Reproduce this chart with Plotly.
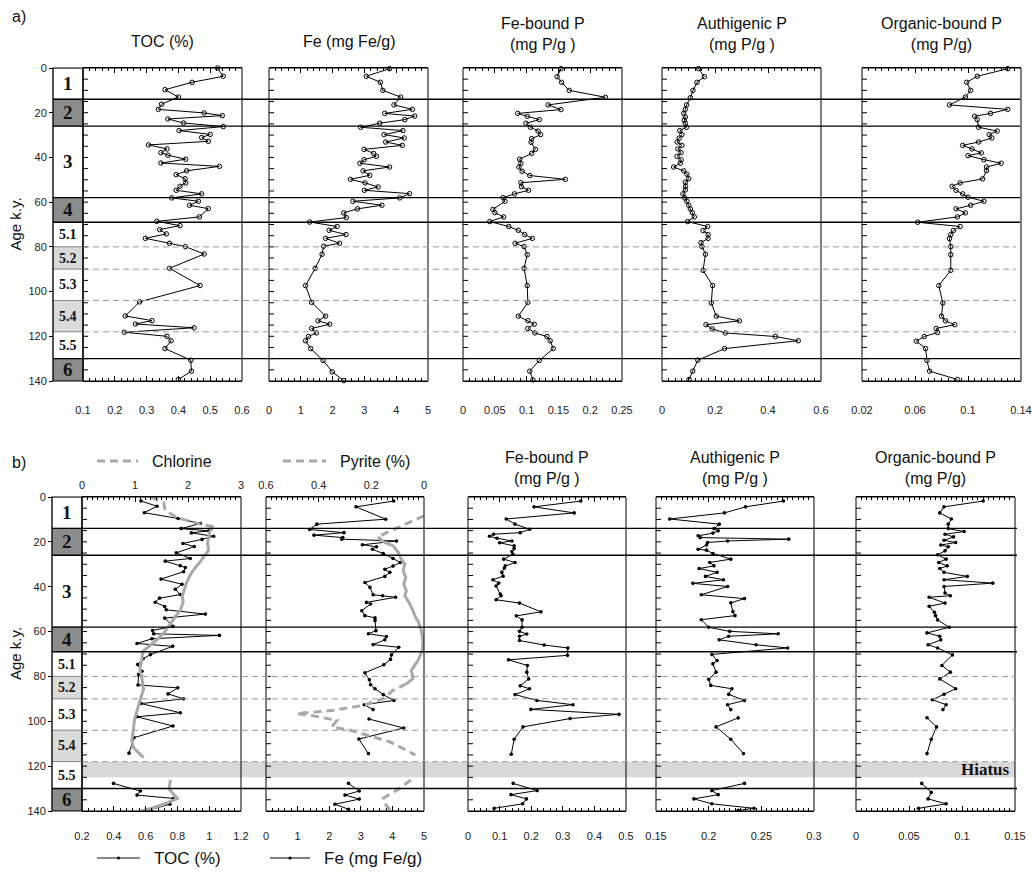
import plotly.graph_objects as go

# ---------------------------------------------------------------------------
# Down-core records, (age in k.y., value)
# ---------------------------------------------------------------------------
# a) core record
TOC_A = [(0.0, 0.523), (3.7, 0.541), (6.4, 0.443), (9.7, 0.358), (13.0, 0.400), (16.2, 0.347),
         (18.5, 0.337), (20.1, 0.481), (21.3, 0.538), (22.8, 0.367), (24.6, 0.416), (26.2, 0.541),
         (28.0, 0.402), (29.7, 0.500), (31.1, 0.473), (32.8, 0.494), (34.4, 0.306), (36.2, 0.364),
         (37.9, 0.345), (39.0, 0.367), (40.8, 0.423), (42.5, 0.345), (44.0, 0.529), (46.0, 0.426),
         (47.7, 0.393), (49.5, 0.421), (51.4, 0.423), (52.9, 0.405), (54.7, 0.393), (56.3, 0.473),
         (58.1, 0.379), (59.6, 0.463), (61.4, 0.435), (62.9, 0.494), (66.6, 0.466), (68.6, 0.332),
         (70.5, 0.405), (72.3, 0.341), (74.2, 0.362), (76.2, 0.296), (78.4, 0.372), (79.9, 0.422),
         (83.2, 0.481), (89.6, 0.372), (97.3, 0.468), (104.6, 0.278), (110.9, 0.233), (113.0, 0.317),
         (114.5, 0.265), (116.2, 0.449), (118.2, 0.230), (120.0, 0.364), (122.0, 0.377), (125.5, 0.358),
         (130.7, 0.439), (135.6, 0.441), (139.3, 0.400)]

FE_A = [(0.3, 3.79), (3.7, 3.06), (6.4, 3.50), (10.0, 3.58), (13.0, 4.14), (16.5, 3.93), (18.5, 4.51),
        (20.3, 3.64), (21.5, 4.58), (23.1, 4.27), (24.7, 3.48), (26.5, 2.88), (28.0, 4.21), (29.8, 3.62),
        (31.3, 4.25), (33.1, 3.67), (34.6, 4.19), (36.4, 2.99), (38.2, 3.29), (39.5, 3.38), (41.0, 2.99),
        (42.6, 2.86), (44.3, 3.79), (46.0, 2.96), (48.0, 3.17), (49.8, 2.56), (51.4, 3.02), (53.2, 3.43),
        (54.7, 3.00), (56.2, 4.42), (58.1, 4.11), (59.6, 2.64), (61.4, 3.55), (63.0, 2.78), (64.8, 2.35),
        (66.9, 2.43), (68.9, 1.28), (70.9, 2.14), (72.6, 1.89), (74.5, 2.42), (76.2, 1.78), (78.4, 2.22),
        (79.7, 1.72), (83.3, 1.67), (89.6, 1.45), (97.3, 1.15), (104.8, 1.34), (111.0, 1.78), (113.1, 1.54),
        (114.6, 1.91), (116.5, 1.34), (118.5, 1.49), (120.1, 1.24), (122.0, 1.15), (125.5, 1.31),
        (130.8, 1.70), (135.9, 1.99), (139.8, 2.35)]

FEP_A = [(0.3, 0.154), (3.9, 0.148), (6.4, 0.155), (10.0, 0.167), (13.1, 0.224), (16.5, 0.134),
         (18.6, 0.154), (20.3, 0.086), (21.6, 0.101), (23.1, 0.120), (24.7, 0.099), (26.5, 0.106),
         (28.2, 0.118), (29.8, 0.122), (31.6, 0.108), (33.2, 0.107), (36.4, 0.114), (38.2, 0.108),
         (40.8, 0.089), (42.6, 0.091), (44.3, 0.088), (46.2, 0.093), (48.1, 0.105), (49.8, 0.161),
         (51.3, 0.091), (53.1, 0.092), (54.7, 0.103), (56.3, 0.081), (58.0, 0.063), (59.6, 0.066),
         (63.2, 0.047), (64.7, 0.050), (66.6, 0.064), (68.7, 0.042), (70.9, 0.072), (72.6, 0.087),
         (74.5, 0.097), (76.2, 0.109), (78.4, 0.082), (79.9, 0.096), (83.5, 0.101), (89.6, 0.096),
         (97.3, 0.101), (104.8, 0.102), (111.0, 0.087), (113.0, 0.102), (114.6, 0.112), (116.5, 0.102),
         (118.5, 0.113), (120.1, 0.132), (122.0, 0.137), (125.5, 0.142), (130.8, 0.120), (135.6, 0.105),
         (139.5, 0.110)]

AUTHP_A = [(0.3, 0.138), (3.9, 0.160), (6.4, 0.132), (10.0, 0.117), (13.3, 0.107), (16.5, 0.093),
           (18.5, 0.088), (20.3, 0.082), (21.9, 0.088), (23.4, 0.084), (24.7, 0.088), (26.5, 0.092),
           (28.0, 0.067), (29.8, 0.075), (31.4, 0.065), (33.1, 0.057), (34.6, 0.075), (36.2, 0.060),
           (37.9, 0.072), (39.5, 0.057), (41.1, 0.072), (42.6, 0.069), (44.3, 0.044), (46.0, 0.082),
           (47.5, 0.094), (49.5, 0.101), (51.1, 0.088), (52.9, 0.089), (54.5, 0.088), (56.3, 0.079),
           (58.1, 0.086), (59.6, 0.094), (61.4, 0.101), (63.0, 0.107), (64.7, 0.114), (66.6, 0.122),
           (68.7, 0.097), (70.9, 0.172), (72.7, 0.155), (74.5, 0.174), (76.2, 0.174), (78.1, 0.147),
           (79.9, 0.151), (83.3, 0.164), (90.5, 0.155), (97.3, 0.191), (105.1, 0.186), (111.0, 0.205),
           (113.1, 0.292), (114.8, 0.166), (116.7, 0.189), (118.5, 0.239), (120.1, 0.428), (122.0, 0.514),
           (125.5, 0.236), (130.7, 0.135), (135.6, 0.116), (139.3, 0.102)]

ORGP_A = [(0.3, 0.130), (3.7, 0.107), (6.4, 0.099), (10.0, 0.102), (13.0, 0.098), (16.5, 0.086),
          (18.5, 0.130), (20.3, 0.117), (21.6, 0.105), (23.1, 0.107), (26.5, 0.108), (28.2, 0.122),
          (29.8, 0.116), (31.3, 0.118), (33.1, 0.108), (34.6, 0.096), (36.2, 0.103), (38.0, 0.110),
          (39.2, 0.100), (41.0, 0.112), (42.6, 0.125), (44.3, 0.114), (45.9, 0.114), (49.6, 0.111),
          (51.4, 0.094), (52.9, 0.088), (54.7, 0.091), (56.3, 0.096), (57.8, 0.100), (59.6, 0.112),
          (61.4, 0.102), (63.0, 0.091), (64.8, 0.098), (66.6, 0.092), (69.0, 0.062), (70.9, 0.094),
          (72.7, 0.089), (74.5, 0.087), (76.3, 0.086), (79.9, 0.087), (83.5, 0.087), (90.5, 0.087),
          (97.3, 0.078), (105.1, 0.081), (111.0, 0.080), (113.1, 0.083), (114.8, 0.090), (116.5, 0.076),
          (118.3, 0.077), (120.1, 0.067), (122.2, 0.061), (125.5, 0.068), (130.8, 0.069), (135.6, 0.071),
          (139.3, 0.092)]

# b) core record
TOC_B = [(1.8, 0.571), (4.1, 0.672), (7.0, 0.592), (9.6, 0.804), (11.8, 0.944), (14.1, 0.823),
         (15.1, 0.997), (16.0, 0.888), (17.5, 1.028), (18.9, 0.955), (20.7, 0.835), (22.1, 0.906),
         (24.9, 0.793), (27.4, 0.881), (28.6, 0.724), (30.6, 0.818), (31.4, 0.850), (33.3, 0.839),
         (36.6, 0.697), (38.9, 0.829), (41.1, 0.787), (43.5, 0.818), (45.1, 0.688), (46.9, 0.661),
         (48.8, 0.720), (50.3, 0.730), (52.2, 0.976), (54.0, 0.720), (57.7, 0.772), (59.5, 0.644),
         (61.0, 0.651), (61.7, 1.064), (63.2, 0.640), (65.3, 0.546), (66.6, 0.770), (70.3, 0.630),
         (72.1, 0.584), (74.7, 0.550), (77.7, 0.577), (79.2, 0.556), (83.8, 0.552), (85.1, 0.802),
         (87.8, 0.741), (90.0, 0.839), (92.1, 0.571), (96.2, 0.818), (98.0, 0.546), (102.1, 0.772),
         (107.3, 0.527), (114.2, 0.496), (127.7, 0.398), (131.1, 0.567), (132.9, 0.546), (134.4, 0.774),
         (137.0, 0.753), (139.3, 0.635)]

CHLORINE = [(0.0, 1.30), (1.5, 1.42), (2.7, 1.54), (5.9, 1.57), (9.2, 1.79), (10.4, 1.98), (12.1, 2.23),
            (13.3, 2.48), (15.5, 2.41), (17.8, 2.39), (20.7, 2.37), (23.7, 2.39), (26.6, 2.31),
            (28.9, 2.23), (31.4, 2.14), (34.0, 2.06), (37.7, 1.98), (40.7, 1.94), (44.4, 1.89),
            (46.6, 1.91), (50.3, 1.86), (53.3, 1.76), (56.2, 1.67), (59.9, 1.57), (62.9, 1.45),
            (65.6, 1.32), (67.3, 1.23), (68.8, 1.15), (72.5, 1.13), (77.0, 1.09), (80.7, 1.13),
            (85.8, 1.16), (90.3, 1.10), (94.7, 1.04), (99.2, 0.99), (103.6, 0.97), (108.8, 0.94),
            (111.7, 0.97), (114.0, 1.07), (116.2, 1.16), (126.2, 1.67), (130.2, 1.64), (134.4, 1.80),
            (137.0, 1.54), (139.0, 1.29), (140.0, 1.12)]

FE_B = [(1.8, 4.04), (4.4, 2.85), (9.9, 3.79), (12.1, 1.61), (14.5, 1.38), (15.9, 2.47), (17.0, 1.52),
        (18.1, 2.43), (18.8, 2.40), (19.6, 4.13), (21.3, 3.05), (22.2, 3.50), (23.3, 3.37), (25.2, 3.71),
        (27.4, 4.02), (29.2, 4.25), (30.8, 4.02), (32.2, 3.76), (33.6, 3.92), (35.4, 3.76), (38.1, 3.13),
        (40.3, 3.29), (43.6, 3.39), (44.0, 3.69), (44.7, 4.10), (47.0, 3.18), (47.7, 3.31), (50.7, 3.03),
        (52.9, 3.13), (53.9, 3.45), (55.1, 3.45), (59.6, 3.48), (61.0, 3.24), (62.2, 3.81), (63.7, 3.76),
        (65.8, 3.39), (67.0, 4.20), (70.4, 3.97), (72.4, 3.94), (74.8, 3.73), (78.4, 3.13), (81.5, 3.27),
        (83.7, 3.31), (85.5, 3.45), (88.1, 3.71), (90.7, 4.05), (92.6, 3.11), (94.8, 3.39), (99.0, 3.26),
        (103.0, 4.36), (107.9, 2.94), (114.4, 3.24), (127.7, 2.61), (131.1, 2.95), (132.9, 2.50),
        (134.7, 2.95), (137.0, 2.18), (139.2, 2.61)]

PYRITE = [(8.4, 0.000), (9.9, 0.029), (12.1, 0.067), (14.1, 0.105), (15.9, 0.142), (17.8, 0.174),
          (19.9, 0.155), (21.8, 0.117), (24.7, 0.098), (27.7, 0.086), (29.9, 0.073), (32.9, 0.079),
          (35.9, 0.069), (38.8, 0.077), (41.8, 0.067), (44.0, 0.073), (47.0, 0.057), (50.7, 0.042),
          (53.6, 0.032), (55.5, 0.022), (58.1, 0.016), (59.6, 0.010), (64.0, 0.004), (68.4, 0.006),
          (72.9, 0.023), (77.3, 0.048), (81.0, 0.042), (83.3, 0.067), (86.2, 0.117), (89.9, 0.155),
          (92.9, 0.231), (95.1, 0.344), (96.6, 0.483), (97.3, 0.432), (99.6, 0.331), (102.5, 0.350),
          (104.0, 0.281), (106.0, 0.220), (109.2, 0.130), (112.9, 0.067), (115.1, 0.033),
          (126.2, 0.050), (128.5, 0.075), (130.5, 0.100), (132.5, 0.130), (134.4, 0.155),
          (136.5, 0.150), (138.5, 0.135), (140.0, 0.125)]

FEP_B = [(1.8, 0.357), (4.4, 0.209), (7.1, 0.336), (9.8, 0.121), (12.1, 0.149), (14.4, 0.195),
         (15.9, 0.165), (16.6, 0.081), (17.5, 0.068), (18.4, 0.092), (19.6, 0.139), (20.4, 0.100),
         (21.8, 0.146), (23.0, 0.146), (24.3, 0.139), (25.5, 0.142), (27.7, 0.113), (29.2, 0.149),
         (30.7, 0.118), (31.7, 0.115), (33.6, 0.107), (35.3, 0.111), (36.9, 0.079), (38.4, 0.097),
         (39.7, 0.089), (43.3, 0.102), (44.0, 0.105), (45.8, 0.089), (47.3, 0.163), (51.2, 0.231),
         (53.0, 0.153), (54.8, 0.171), (58.1, 0.171), (59.9, 0.163), (61.1, 0.186), (62.1, 0.163),
         (64.0, 0.163), (66.0, 0.241), (67.3, 0.316), (70.6, 0.315), (72.6, 0.128), (75.1, 0.188),
         (78.1, 0.186), (81.1, 0.192), (84.2, 0.165), (85.5, 0.195), (88.1, 0.149), (90.7, 0.218),
         (92.6, 0.332), (94.7, 0.199), (96.9, 0.478), (98.8, 0.323), (102.5, 0.174), (108.0, 0.146),
         (114.7, 0.137), (127.7, 0.143), (130.9, 0.219), (132.7, 0.136), (134.6, 0.185), (136.8, 0.173),
         (138.8, 0.083)]

AUTHP_B = [(1.8, 0.271), (4.4, 0.235), (7.1, 0.215), (9.8, 0.163), (12.1, 0.210), (14.1, 0.205),
           (15.1, 0.209), (16.1, 0.204), (17.3, 0.190), (18.1, 0.192), (18.8, 0.276), (19.6, 0.218),
           (20.3, 0.199), (21.4, 0.198), (23.3, 0.190), (23.7, 0.198), (25.2, 0.204), (27.7, 0.221),
           (29.2, 0.201), (30.7, 0.205), (31.9, 0.191), (33.6, 0.208), (35.4, 0.197), (36.9, 0.214),
           (38.5, 0.185), (39.9, 0.218), (43.6, 0.193), (45.3, 0.234), (47.2, 0.221), (51.1, 0.223),
           (52.9, 0.225), (54.7, 0.193), (58.1, 0.200), (59.9, 0.220), (61.0, 0.266), (62.1, 0.219),
           (63.7, 0.210), (65.9, 0.245), (67.3, 0.275), (70.2, 0.203), (72.9, 0.208), (74.4, 0.204),
           (78.1, 0.207), (81.3, 0.200), (84.0, 0.202), (85.5, 0.222), (88.0, 0.219), (90.7, 0.234),
           (92.6, 0.218), (94.8, 0.221), (98.5, 0.228), (102.5, 0.207), (108.0, 0.221), (114.4, 0.233),
           (127.7, 0.234), (130.9, 0.203), (132.7, 0.209), (134.6, 0.186), (136.8, 0.203), (138.8, 0.243),
           (139.7, 0.228)]

ORGP_B = [(1.8, 0.120), (4.4, 0.083), (7.1, 0.079), (9.8, 0.090), (12.1, 0.087), (14.1, 0.087),
          (15.4, 0.102), (16.6, 0.084), (17.8, 0.092), (19.3, 0.083), (20.3, 0.094), (21.4, 0.080),
          (22.2, 0.087), (24.0, 0.084), (25.8, 0.077), (27.7, 0.085), (29.2, 0.078), (30.7, 0.086),
          (31.9, 0.079), (33.6, 0.083), (35.4, 0.105), (36.9, 0.083), (38.4, 0.129), (39.9, 0.083),
          (42.8, 0.084), (44.0, 0.089), (44.7, 0.069), (47.3, 0.084), (48.7, 0.069), (51.4, 0.074),
          (52.9, 0.075), (54.8, 0.077), (58.1, 0.088), (60.6, 0.067), (62.1, 0.079), (63.7, 0.080),
          (65.9, 0.068), (67.3, 0.077), (70.4, 0.091), (75.1, 0.081), (78.1, 0.089), (81.1, 0.079),
          (85.5, 0.094), (88.0, 0.083), (90.4, 0.072), (92.6, 0.085), (94.8, 0.082), (98.4, 0.067),
          (102.5, 0.076), (108.0, 0.071), (114.4, 0.067), (127.7, 0.062), (131.7, 0.071), (134.6, 0.068),
          (136.8, 0.085), (138.8, 0.059)]

# Marine isotope stages
STAGE_BOUNDS = [0, 14, 26, 58, 69, 80, 90, 104, 118, 130, 140]
STAGE_LABELS = ["1", "2", "3", "4", "5.1", "5.2", "5.3", "5.4", "5.5", "6"]
STAGE_MAJOR = [14, 26, 58, 69, 130]
STAGE_SUB = [80, 90, 104, 118]
HIATUS = (118, 125)
SAMPLE_GAP = (95.5, 98.0)
AGE_TICKS = [0, 20, 40, 60, 80, 100, 120, 140]

# ---------------------------------------------------------------------------
W, H = 1032, 872


def px(x):
    return x / W


def py(y):
    return 1 - y / H


FONT = "Liberation Sans, Arial, Helvetica, sans-serif"
SERIF = "Liberation Serif, Times New Roman, serif"
GREY_CURVE = "#a9a9a9"
TONES = {"1": "white", "2": "#8c8c8c", "3": "white", "4": "#8c8c8c", "5.1": "white",
         "5.2": "#dadada", "5.3": "white", "5.4": "#dadada", "5.5": "white", "6": "#8c8c8c"}

# row geometry (pixel rows of age 0 and age 140) and stage column
ROWS = {"a": dict(top=68, bot=381, col=(53, 83), yref="y", right=1020, dash_right=1016),
        "b": dict(top=497, bot=811, col=(52, 82), yref="y2", right=1017, dash_right=1015)}


def with_gaps(points, gaps):
    ages, vals = [], []
    prev = None
    for age, v in points:
        if prev is not None and any(prev <= g0 and age >= g1 for g0, g1 in gaps):
            ages.append(None)
            vals.append(None)
        ages.append(age)
        vals.append(v)
        prev = age
    return ages, vals


fig = go.Figure()
layout = dict(width=W, height=H, margin=dict(l=0, r=0, t=0, b=0, pad=0, autoexpand=False),
              paper_bgcolor="white", plot_bgcolor="rgba(0,0,0,0)",
              showlegend=False, hovermode=False,
              font=dict(family=FONT, color="#1a1a1a", size=11))
shapes, annots = [], []

AX_BASE = dict(showgrid=False, zeroline=False, showline=True, linecolor="black", linewidth=1,
               ticks="inside", ticklen=5, tickwidth=1, tickcolor="black", automargin=False,
               tickfont=dict(size=11, family=FONT, color="#222"))


def x_axis(idx, left, right, rng, dtick, minor, anchor, standoff=18, mirror="ticks",
           side="bottom", overlay=None, tick0=None):
    ax = dict(AX_BASE)
    ax.update(range=rng, dtick=dtick, tick0=rng[0] if tick0 is None else tick0,
              minor=dict(dtick=minor, ticks="inside", ticklen=3, tickcolor="black",
                         tick0=rng[0] if tick0 is None else tick0),
              anchor=anchor, side=side, mirror=mirror, ticklabelstandoff=standoff)
    if overlay:
        ax["overlaying"] = overlay
    else:
        ax["domain"] = [px(left), px(right)]
    layout["xaxis" if idx == 1 else f"xaxis{idx}"] = ax
    return "x" if idx == 1 else f"x{idx}"


def frame(xref, yref, left_w):
    # plot box plus small inward age ticks on the left edge every 5 k.y.
    xd = f"{xref} domain"
    shapes.append(dict(type="rect", xref=xd, yref=f"{yref} domain", x0=0, x1=1, y0=0, y1=1,
                       line=dict(color="black", width=1), layer="above"))
    for age in range(5, 140, 5):
        shapes.append(dict(type="line", xref=xd, yref=yref, x0=0, x1=5 / left_w, y0=age, y1=age,
                           line=dict(color="black", width=1), layer="above"))


def series(points, xref, yref, mark, gaps=()):
    ages, vals = with_gaps(points, gaps)
    if mark == "open":
        marker = dict(symbol="circle-open", size=4.5, color="black", line=dict(width=1, color="black"))
    else:
        marker = dict(symbol="circle", size=3.6, color="black")
    fig.add_trace(go.Scatter(x=vals, y=ages, xaxis=xref, yaxis=yref, mode="lines+markers",
                             line=dict(color="black", width=1), marker=marker, cliponaxis=False))


def grey_curve(points, xref, yref, pieces):
    for a0, a1, dash in pieces:
        seg = [(a, v) for a, v in points if a0 <= a <= a1]
        fig.add_trace(go.Scatter(x=[v for _, v in seg], y=[a for a, _ in seg], xaxis=xref, yaxis=yref,
                                 mode="lines", line=dict(color=GREY_CURVE, width=3, dash=dash)))


def label(text, x, y, size=16, family=FONT, xref="paper", yref="paper", **kw):
    a = dict(text=text, xref=xref, yref=yref, x=x, y=y, showarrow=False,
             xanchor="center", yanchor="middle", font=dict(size=size, family=family, color="#111"))
    a.update(kw)
    annots.append(a)


# ---- y (age) axes -----------------------------------------------------------
for key_, name in (("a", "yaxis"), ("b", "yaxis2")):
    r = ROWS[key_]
    layout[name] = dict(domain=[py(r["bot"]), py(r["top"])], range=[140, 0], anchor="free",
                        position=px(r["col"][0]), side="left", showgrid=False, zeroline=False,
                        showline=False, ticks="outside", ticklen=4, tickcolor="black", automargin=False,
                        tickvals=AGE_TICKS, tickfont=dict(size=11, family=FONT, color="#222"))
    label("Age k.y.", px(15), py((r["top"] + r["bot"]) / 2), size=15, textangle=-90)

# ---- panel a ----------------------------------------------------------------
PANEL_A = [
    (1, 83, 242, [0.1, 0.6], 0.1, 0.02, TOC_A, "TOC (%)"),
    (2, 269, 428, [0, 5], 1, 0.2, FE_A, "Fe (mg Fe/g)"),
    (3, 463, 622, [0, 0.25], 0.05, 0.01, FEP_A, "Fe-bound P<br>(mg P/g )"),
    (4, 662, 821, [0, 0.6], 0.2, 0.025, AUTHP_A, "Authigenic P<br>(mg P/g )"),
    (5, 862, 1021, [0.02, 0.14], 0.04, 0.005, ORGP_A, "Organic-bound P<br>(mg P/g)"),
]
for idx, left, right, rng, dt, mn, pts, title in PANEL_A:
    xr = x_axis(idx, left, right, rng, dt, mn, "y", standoff=19)
    series(pts, xr, "y", "open")
    frame(xr, "y", right - left)
    two = "<br>" in title
    label(title, px((left + right) / 2), py(34 if two else 41))

# ---- panel b ----------------------------------------------------------------
xr6 = x_axis(6, 82, 241, [0.2, 1.2], 0.2, 0.04, "y2", standoff=15, mirror=False)
xr7 = x_axis(7, 82, 241, [0, 3], 1, 0.1, "y2", standoff=3, mirror=False, side="top", overlay="x6")
xr8 = x_axis(8, 266, 424, [0, 5], 1, 0.2, "y2", standoff=15, mirror=False)
xr9 = x_axis(9, 266, 424, [0.6, 0], 0.2, 0.02, "y2", standoff=3, mirror=False, side="top",
             overlay="x8", tick0=0)
grey_curve(CHLORINE, xr7, "y2", [(0, 13.3, "8px,5px"), (13.3, 117, "solid"),
                                 (126, 130.2, "8px,5px"), (130.2, 141, "solid")])
grey_curve(PYRITE, xr9, "y2", [(8, 17.8, "8px,5px"), (17.8, 83.3, "solid"),
                               (83.3, 116, "8px,5px"), (126, 141, "8px,5px")])
series(TOC_B, xr6, "y2", "dot", gaps=[HIATUS])
series(FE_B, xr8, "y2", "dot", gaps=[HIATUS, SAMPLE_GAP])
frame(xr6, "y2", 241 - 82)
frame(xr8, "y2", 424 - 266)

PANEL_B = [
    (10, 468, 626, [0, 0.5], 0.1, 0.02, FEP_B, "Fe-bound P<br>(mg P/g )", [HIATUS]),
    (11, 656, 814, [0.15, 0.3], 0.05, 0.005, AUTHP_B, "Authigenic P<br>(mg P/g )", [HIATUS, SAMPLE_GAP]),
    (12, 856, 1015, [0, 0.15], 0.05, 0.005, ORGP_B, "Organic-bound P<br>(mg P/g)", [HIATUS, SAMPLE_GAP]),
]
for idx, left, right, rng, dt, mn, pts, title, gaps in PANEL_B:
    xr = x_axis(idx, left, right, rng, dt, mn, "y2", standoff=15)
    series(pts, xr, "y2", "dot", gaps=gaps)
    frame(xr, "y2", right - left)
    label(title, px((left + right) / 2), py(468))

# ---- stage column, boundaries, hiatus ----------------------------------------
for key_, r in ROWS.items():
    c0, c1 = r["col"]
    yref = r["yref"]
    for lab, a0, a1 in zip(STAGE_LABELS, STAGE_BOUNDS[:-1], STAGE_BOUNDS[1:]):
        shapes.append(dict(type="rect", xref="paper", yref=yref, x0=px(c0), x1=px(c1), y0=a0, y1=a1,
                           fillcolor=TONES[lab], line=dict(color="#666", width=0.6), layer="below"))
        label(f"<b>{lab}</b>", px((c0 + c1) / 2), (a0 + a1) / 2, yref=yref, family=SERIF,
              size=19 if len(lab) == 1 else 14)
    shapes.append(dict(type="rect", xref="paper", yref=f"{yref} domain", x0=px(c0), x1=px(c1),
                       y0=0, y1=1, line=dict(color="black", width=1.2), layer="above"))
    for age in STAGE_MAJOR:
        shapes.append(dict(type="line", xref="paper", yref=yref, x0=px(c0), x1=px(r["right"]),
                           y0=age, y1=age, line=dict(color="black", width=1.4), layer="above"))
    for age in STAGE_SUB:
        shapes.append(dict(type="line", xref="paper", yref=yref, x0=px(c1), x1=px(r["dash_right"]),
                           y0=age, y1=age, line=dict(color="#9c9c9c", width=1, dash="6px,4px"),
                           layer="above"))

rb = ROWS["b"]
shapes.append(dict(type="rect", xref="paper", yref="y2", x0=px(rb["col"][1]), x1=px(rb["dash_right"]),
                   y0=HIATUS[0], y1=HIATUS[1], fillcolor="#d9d9d9", line=dict(width=0), layer="below"))
label("<b>Hiatus</b>", px(1012), sum(HIATUS) / 2, yref="y2", family=SERIF, size=17, xanchor="right")

# ---- panel letters and legend keys -------------------------------------------
label("a)", px(19), py(17))
label("b)", px(19), py(462))


def key(x0, x1, y, text, color, width, dash=None, dot=False, size=16):
    shapes.append(dict(type="line", xref="paper", yref="paper", x0=px(x0), x1=px(x1), y0=py(y), y1=py(y),
                       line=dict(color=color, width=width, dash=dash or "solid")))
    if dot:
        xc = (x0 + x1) / 2
        shapes.append(dict(type="circle", xref="paper", yref="paper", x0=px(xc - 1.6), x1=px(xc + 1.6),
                           y0=py(y + 1.6), y1=py(y - 1.6), fillcolor="black", line=dict(width=0)))
    label(text, px(x1 + 12), py(y), size=size, xanchor="left")


key(97, 138, 461, "Chlorine", GREY_CURVE, 3, dash="8px,5px")
key(283, 326, 461, "Pyrite (%)", GREY_CURVE, 3, dash="8px,5px")
key(97, 140, 858, "TOC (%)", "#8a8a8a", 2, dot=True, size=17)
key(270, 310, 858, "Fe (mg Fe/g)", "black", 1, dot=True, size=17)

layout["shapes"] = shapes
layout["annotations"] = annots
fig.update_layout(**layout)
fig.write_html("out.html")
